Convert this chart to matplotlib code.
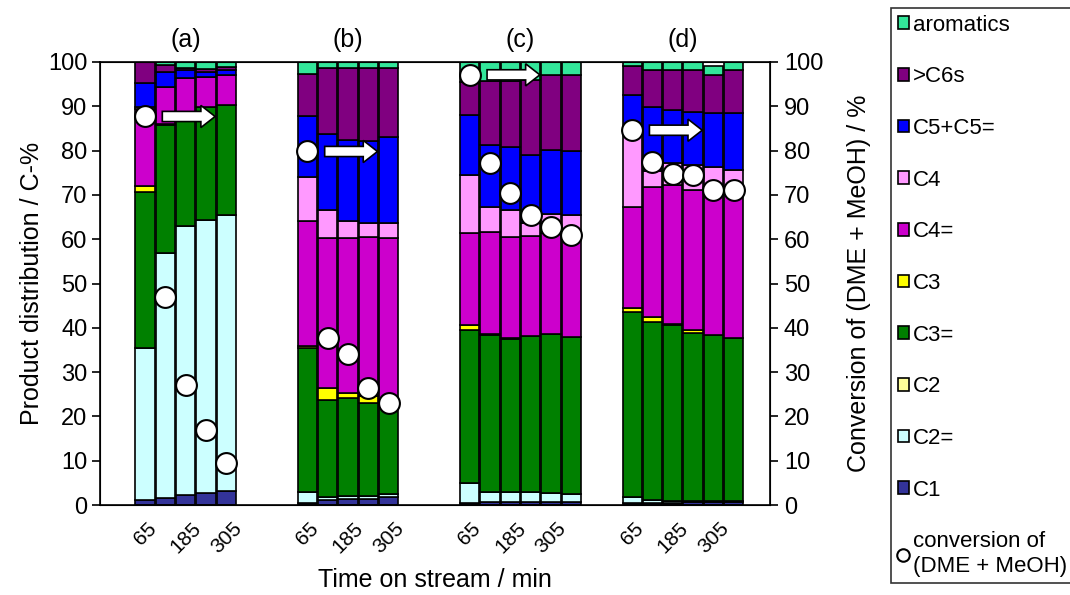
import matplotlib
matplotlib.use('Agg')
import matplotlib.pyplot as plt
import numpy as np
from matplotlib.patches import FancyArrow
from matplotlib.lines import Line2D
from matplotlib.patches import Patch

plt.rcParams['font.family'] = ['Liberation Sans', 'DejaVu Sans']

# ---------------- data ----------------
groups = ['(a)', '(b)', '(c)', '(d)']
group_times = [
    [65, 125, 185, 245, 305],
    [65, 125, 185, 245, 305],
    [65, 125, 185, 245, 305, 365],
    [65, 125, 185, 245, 305, 365],
]
shown_times = [65, 185, 305]

components = ['C1', 'C2=', 'C2', 'C3=', 'C3', 'C4=', 'C4', 'C5+C5=', '>C6s', 'aromatics']
colors = ['#333399', '#CCFFFF', '#FFFF99', '#008000', '#FFFF00',
          '#CC00CC', '#FF99FF', '#0000FF', '#800080', '#33E69A']

#            ---------- (a) ----------        ---------- (b) ----------        -------------- (c) --------------      -------------- (d) --------------
c1 =        [1.1, 1.6, 2.2, 2.6, 3.1,        0.5, 1.1, 1.3, 1.4, 1.9,        0.5, 0.6, 0.6, 0.6, 0.6, 0.6,          0.5, 0.4, 0.4, 0.6, 0.6, 0.6]
c2_ene =    [34.4, 55.2, 60.7, 61.7, 62.3,   2.5, 0.8, 0.7, 0.7, 0.6,        4.4, 2.4, 2.4, 2.4, 2.0, 1.8,          1.4, 0.7, 0.4, 0.2, 0.3, 0.3]
c2 =        [0.0, 0.0, 0.0, 0.0, 0.0,        0.0, 0.0, 0.0, 0.0, 0.0,        0.0, 0.0, 0.0, 0.0, 0.0, 0.0,          0.0, 0.0, 0.0, 0.0, 0.0, 0.0]
c3_ene =    [35.1, 29.0, 24.4, 25.6, 25.0,   32.4, 21.8, 22.1, 20.9, 20.5,   34.6, 35.4, 34.4, 35.1, 36.0, 35.6,    41.7, 40.3, 39.8, 38.1, 37.5, 36.7]
c3 =        [1.5, 0.1, 0.0, 0.0, 0.0,        0.5, 2.6, 1.1, 1.5, 0.3,        1.1, 0.2, 0.4, 0.1, 0.0, 0.0,          0.9, 1.0, 0.2, 0.5, 0.0, 0.0]
c4_ene =    [17.4, 8.5, 9.0, 6.8, 6.7,       28.3, 34.0, 35.1, 36.1, 37.0,   20.9, 23.1, 22.6, 22.5, 22.7, 23.0,    22.8, 29.4, 31.4, 31.7, 32.1, 32.9]
c4 =        [0.3, 0.0, 0.0, 0.0, 0.0,        9.8, 6.4, 3.7, 3.1, 3.4,        13.0, 5.5, 6.2, 2.9, 4.3, 4.5,         16.7, 3.7, 4.9, 5.6, 5.9, 5.1]
c5 =        [5.4, 3.4, 1.9, 1.1, 1.2,        13.7, 17.0, 18.5, 18.5, 19.4,   13.5, 14.1, 14.3, 15.4, 14.5, 14.3,    8.5, 14.3, 12.1, 12.1, 12.0, 12.8]
c6s =       [4.8, 1.5, 0.4, 0.6, 0.5,        9.7, 14.9, 16.1, 16.4, 15.5,    7.5, 14.3, 14.9, 16.9, 17.0, 17.3,     6.5, 8.4, 9.0, 9.4, 8.6, 9.8]
aromatics = [0.0, 0.7, 1.4, 1.6, 1.2,        2.6, 1.4, 1.4, 1.4, 1.4,        4.5, 4.4, 4.2, 4.1, 2.9, 2.9,          1.0, 1.8, 1.8, 1.8, 2.0, 1.8]

conversion = [87.7, 47.0, 27.2, 16.9, 9.4,
              79.8, 37.8, 34.1, 26.3, 23.1,
              97.1, 77.1, 70.4, 65.5, 62.8, 61.0,
              84.6, 77.5, 74.7, 74.5, 71.1, 71.1]

series = [c1, c2_ene, c2, c3_ene, c3, c4_ene, c4, c5, c6s, aromatics]

# ---------------- positions ----------------
group_step = 8
positions = []
group_first = []
for gi, t in enumerate(group_times):
    start = gi * group_step
    group_first.append(len(positions))
    positions.extend(start + np.arange(len(t)))
positions = np.array(positions, dtype=float)

tick_pos, tick_lab = [], []
idx = 0
for t in group_times:
    for tt in t:
        if tt in shown_times:
            tick_pos.append(positions[idx])
            tick_lab.append(str(tt))
        idx += 1

# ---------------- figure ----------------
fig = plt.figure(figsize=(10.7, 5.95), dpi=100)
ax = fig.add_axes([100 / 1070, 90 / 595, 670 / 1070, 443 / 595])

bottom = np.zeros(len(positions))
for vals, col, name in zip(series, colors, components):
    v = np.array(vals)
    ax.bar(positions, v, bottom=bottom, width=0.95, color=col,
           edgecolor='black', linewidth=1.2, label=name, zorder=2)
    bottom += v

ax.set_xlim(-2.22, 30.79)
ax.set_ylim(0, 100)
ax.set_yticks(np.arange(0, 101, 10))
ax.set_xticks(tick_pos)
ax.set_xticklabels(tick_lab, rotation=45, fontsize=15)
ax.tick_params(axis='x', length=0, pad=10)
ax.tick_params(axis='y', direction='out', length=6, width=1.2, labelsize=17, pad=3)
for s in ax.spines.values():
    s.set_linewidth(1.2)
ax.set_ylabel('Product distribution / C-%', fontsize=18, labelpad=3)
ax.set_xlabel('Time on stream / min', fontsize=18, labelpad=8)

ax2 = ax.twinx()
ax2.set_ylim(0, 100)
ax2.set_yticks(np.arange(0, 101, 10))
ax2.tick_params(axis='y', direction='out', length=6, width=1.2, labelsize=17, pad=4)
ax2.set_ylabel('Conversion of (DME + MeOH) / %', fontsize=18, labelpad=17)

# arrows (white with black outline) at the first conversion of each group
for gi, fi in enumerate(group_first):
    x0 = positions[fi] + 0.85
    y0 = conversion[fi]
    arr = FancyArrow(x0, y0, 2.6, 0, width=2.3, head_width=5.0, head_length=0.7,
                     length_includes_head=True, fc='white', ec='black', lw=1.2,
                     zorder=4, clip_on=False)
    ax2.add_patch(arr)

ax2.plot(positions, conversion, linestyle='none', marker='o', markersize=15,
         markerfacecolor='white', markeredgecolor='black', markeredgewidth=1.5,
         zorder=5, clip_on=False)

# group labels
for gi, name in enumerate(groups):
    p = positions[group_first[gi]:group_first[gi] + len(group_times[gi])]
    ax.text(p.mean(), 105, name, ha='center', va='center', fontsize=18)

# legend
handles = [Patch(facecolor=c, edgecolor='black', linewidth=1.2, label=n)
           for n, c in zip(components, colors)][::-1]
handles.append(Line2D([], [], linestyle='none', marker='o', markersize=9,
                      markerfacecolor='white', markeredgecolor='black',
                      markeredgewidth=1.5, label='conversion of\n(DME + MeOH)'))
leg = fig.legend(handles=handles, loc='upper left',
                 bbox_to_anchor=(891 / 1070, 1 - 8 / 595), fontsize=16,
                 frameon=True, fancybox=False, edgecolor='black',
                 handlelength=0.5, handleheight=0.5, handletextpad=0.2,
                 labelspacing=1.38, borderpad=0.3, borderaxespad=0)
leg.get_frame().set_linewidth(1.2)

fig.savefig('out.png', dpi=100)
